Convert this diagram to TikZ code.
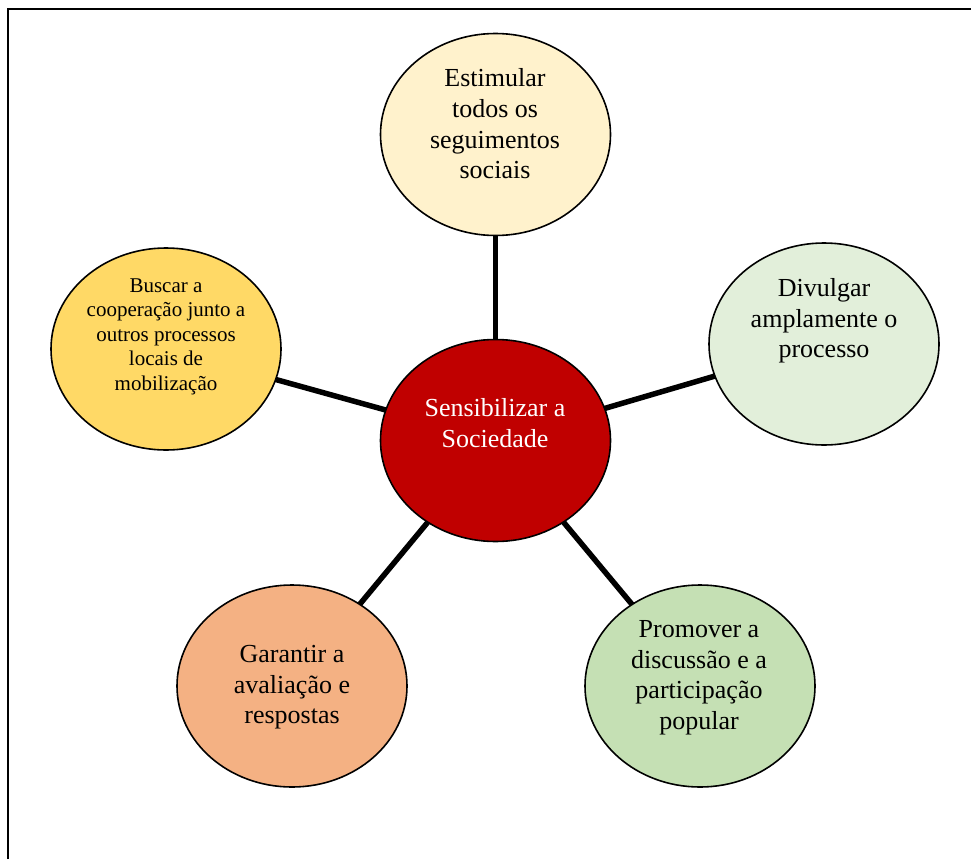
\documentclass[tikz,border=0pt]{standalone}
\usepackage{fontspec}
\setmainfont{Liberation Serif}
\usetikzlibrary{shapes.geometric,backgrounds}
\definecolor{cTop}{HTML}{FFF2CC}
\definecolor{cRight}{HTML}{E2EFDA}
\definecolor{cLeft}{HTML}{FFD966}
\definecolor{cMid}{HTML}{C00000}
\definecolor{cBL}{HTML}{F4B183}
\definecolor{cBR}{HTML}{C5E0B4}
\tikzset{
  bubble/.style={ellipse, draw=black, line width=1.6pt, minimum width=230pt, minimum height=202pt, inner sep=0pt},
  btext/.style={align=center, inner sep=0pt, font=\fontsize{26}{30.7}\selectfont},
  stext/.style={align=center, inner sep=0pt, font=\fontsize{21}{24.5}\selectfont},
  spoke/.style={line width=5.5pt, black}
}
\begin{document}
\begin{tikzpicture}[x=1pt,y=-1pt]
\useasboundingbox (0,0) rectangle (971,859);
\draw[line width=2pt] (8,859) -- (8,9.5) -- (971,9.5);
\node[bubble, fill=cMid] (mid) at (495.5,440.5) {};
\node[bubble, fill=cTop] (top) at (495.5,134.5) {};
\node[bubble, fill=cRight] (right) at (824,344) {};
\node[bubble, fill=cLeft] (left) at (166,349) {};
\node[bubble, fill=cBL] (bl) at (292,686) {};
\node[bubble, fill=cBR] (br) at (700,686) {};
\begin{scope}[on background layer]
\draw[spoke] (mid.center) -- (top.center);
\draw[spoke] (mid.center) -- (right.center);
\draw[spoke] (mid.center) -- (left.center);
\draw[spoke] (mid.center) -- (bl.center);
\draw[spoke] (mid.center) -- (br.center);
\end{scope}
\node[btext, text=white] (tmid) at (495,423) {Sensibilizar a\\Sociedade};
\node[btext] (ttop) at (495,124) {Estimular\\todos os\\seguimentos\\sociais};
\node[btext] (tright) at (824,321) {Divulgar\\amplamente o\\processo};
\node[stext] (tleft) at (166,336.4) {Buscar a\\cooperação junto a\\outros processos\\locais de\\mobilização};
\node[btext] (tbl) at (292,687.4) {Garantir a\\avaliação e\\respostas};
\node[btext] (tbr) at (699,677.6) {Promover a\\discussão e a\\participação\\popular};
\end{tikzpicture}
\end{document}
